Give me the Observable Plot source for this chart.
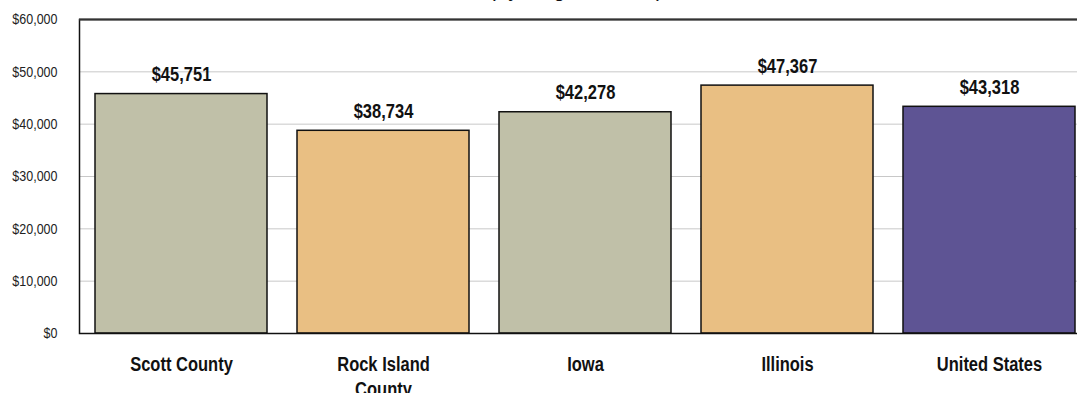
<!DOCTYPE html>
<html>
<head>
<meta charset="utf-8">
<script src="https://cdn.jsdelivr.net/npm/d3@7"></script>
<script src="https://cdn.jsdelivr.net/npm/@observablehq/plot@0.6"></script>
<style>
  html, body { margin: 0; padding: 0; background: #fff; overflow: hidden; }
  #chart { position: relative; width: 1077px; height: 393px; overflow: hidden; }
</style>
</head>
<body>
<div id="chart"></div>
<script>
// ---- data ----
const categories = ["Scott County", "Rock Island County", "Iowa", "Illinois", "United States"];
const incomes = [45751, 38734, 42278, 47367, 43318];
const yTicks = [0, 10000, 20000, 30000, 40000, 50000, 60000];
const titleText = ["(by Region, 2009)"];

// palette (style, not data)
const palette = ["#C0C0A8", "#E9BF83", "#C0C0A8", "#E9BF83", "#5E5494"];

const rows = categories.map((c, i) => ({category: c, income: incomes[i]}));

const sans = "'Liberation Sans', Arial, Helvetica, sans-serif";
const fmt = d3.format("$,");

const chart = Plot.plot({
  width: 1090,
  height: 393,
  marginLeft: 79,
  marginRight: 0,
  marginTop: 19,
  marginBottom: 60,
  style: {maxWidth: "none", overflow: "visible", background: "#fff", fontFamily: sans},
  x: {domain: categories, paddingInner: 0.15, paddingOuter: 0.075, label: null},
  y: {domain: [0, 60000], label: null},
  color: {domain: categories, range: palette},
  marks: [
    Plot.gridY(yTicks, {stroke: "#c8c8c8", strokeOpacity: 1, strokeWidth: 1}),
    Plot.barY(rows, {x: "category", y: "income", fill: "category", stroke: "#111", strokeWidth: 1.5}),
    Plot.text(rows, {x: "category", y: "income", text: d => fmt(d.income), lineAnchor: "bottom", dy: -13,
      fontSize: 16.5, fontWeight: "bold", fill: "#111", className: "stretch"}),
    Plot.frame({stroke: "#111", strokeWidth: 1.5}),
    Plot.ruleY([60000], {stroke: "#333", strokeWidth: 2}),
    Plot.axisY({ticks: yTicks, tickFormat: fmt, tickSize: 0, tickPadding: 22, fontSize: 12.5,
      fill: "#222", label: null, className: "stretch"}),
    Plot.axisX({tickSize: 0, tickPadding: 20, fontSize: 16.5, fontWeight: "bold", fill: "#111",
      lineWidth: 7, lineHeight: 1.25, label: null, className: "stretch"}),
    Plot.text(titleText, {frameAnchor: "top", lineAnchor: "bottom", dy: -24, dx: -9,
      fontSize: 22, fill: "#111", className: "stretch"})
  ]
});

// the reference's lettering is taller than it is wide: stretch glyphs vertically about their anchors
d3.select(chart).selectAll(".stretch text").each(function() {
  const t = this.getAttribute("transform") || "";
  this.setAttribute("transform", (t + " scale(1,1.2)").trim());
});

document.getElementById("chart").appendChild(chart);
</script>
</body>
</html>
